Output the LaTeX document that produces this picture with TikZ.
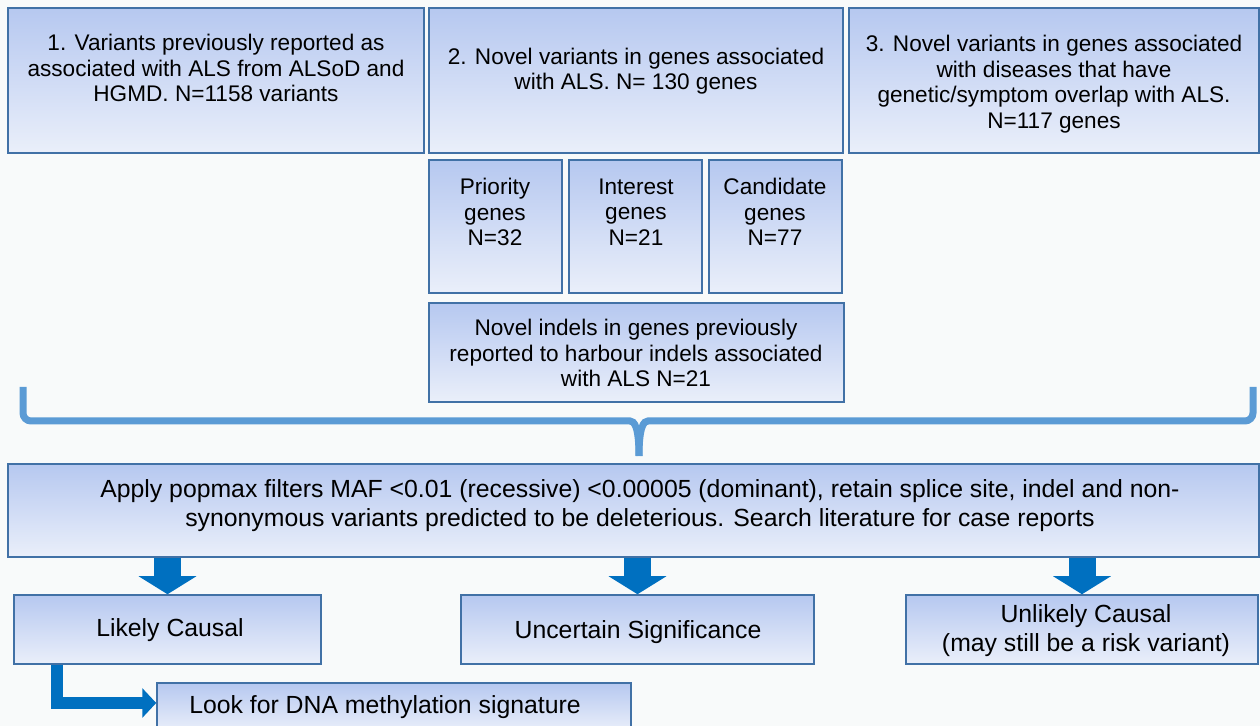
\documentclass[tikz,border=0pt]{standalone}
\usepackage{fontspec}
\setmainfont{Liberation Sans}
\usetikzlibrary{fit,arrows.meta}

\definecolor{bgwhite}{RGB}{248,250,250}
\definecolor{boxtop}{RGB}{182,200,240}
\definecolor{boxbot}{RGB}{234,239,250}
\definecolor{boxline}{RGB}{65,113,166}
\definecolor{bracecol}{RGB}{91,155,213}
\definecolor{arrowcol}{RGB}{0,112,192}

\tikzset{
  panel/.style={draw=boxline, line width=0.75pt, top color=boxtop, bottom color=boxbot, inner sep=0pt},
  smalltxt/.style={font=\fontsize{11.3}{12.8}\selectfont, align=center},
  bigtxt/.style={font=\fontsize{12.4}{14.5}\selectfont, align=center},
  downarrow/.style={draw=arrowcol, line width=13.5pt, -{Triangle[width=28.5pt,length=9pt]}},
  elbowarrow/.style={draw=arrowcol, line width=6pt, line join=miter, -{Triangle[width=14.5pt,length=7pt]}},
  bracket/.style={draw=bracecol, line width=3.5pt}
}

\begin{document}
\begin{tikzpicture}[x=0.5pt,y=-0.5pt]
\fill[bgwhite] (0,0) rectangle (1260,726);
\useasboundingbox (0,0) rectangle (1260,726);

% Sources
\node[panel, fit={(8,8) (424,153)}] (src1) {};
\node[smalltxt] (src1t) at (216,68) {1. Variants previously reported as\\associated with ALS from ALSoD and\\HGMD. N=1158 variants};

\node[panel, fit={(429,8) (843,153)}] (src2) {};
\node[smalltxt] (src2t) at (636,71) {2. Novel variants in genes associated\\with ALS. N= 130 genes};

\node[panel, fit={(849,8) (1259,153)}] (src3) {};
\node[smalltxt] (src3t) at (1054,84) {3. Novel variants in genes associated\\with diseases that have\\genetic/symptom overlap with ALS.\\N=117 genes};

% Gene groups
\node[panel, fit={(429,160) (562,293)}] (prio) {};
\node[smalltxt] (priot) at (495,212) {Priority\\genes\\N=32};
\node[panel, fit={(569,160) (702,293)}] (inter) {};
\node[smalltxt] (intert) at (636,212) {Interest\\genes\\N=21};
\node[panel, fit={(709,160) (842,293)}] (cand) {};
\node[smalltxt] (candt) at (775,212) {Candidate\\genes\\N=77};

\node[panel, fit={(429,303) (844,402)}] (indel) {};
\node[smalltxt] (indelt) at (636,353) {Novel indels in genes previously\\reported to harbour indels associated\\with ALS N=21};

% Brace
\draw[bracket, rounded corners=4pt] (23,387) |- (622,421) .. controls (634,421) and (639,426) .. (639,456);
\draw[bracket, rounded corners=4pt] (1253,387) |- (656,421) .. controls (644,421) and (639,426) .. (639,456);

% Filter
\node[panel, fit={(8,464) (1259,557)}] (filter) {};
\node[bigtxt] (filtert) at (640,506) {Apply popmax filters MAF <0.01 (recessive) <0.00005 (dominant), retain splice site, indel and non-\\synonymous variants predicted to be deleterious. Search literature for case reports};

% Outcomes
\node[panel, fit={(14,595) (321,664)}] (likely) {};
\node[bigtxt] (likelyt) at (170,630) {Likely Causal};
\node[panel, fit={(461,595) (814,664)}] (uncert) {};
\node[bigtxt] (uncertt) at (638,632) {Uncertain Significance};
\node[panel, fit={(906,595) (1258,664)}] (unlik) {};
\node[bigtxt] (unlikt) at (1086,631) {Unlikely Causal\\(may still be a risk variant)};

\node[panel, fit={(157,683) (631,731)}] (dna) {};
\node[bigtxt] (dnat) at (385,707) {Look for DNA methylation signature};

\draw[downarrow] (filter.south -| likely.north) -- (likely.north);
\draw[downarrow] (filter.south -| uncert.north) -- (uncert.north);
\draw[downarrow] (filter.south -| unlik.north) -- (unlik.north);
\draw[elbowarrow] ([xshift=22pt]likely.south west) |- ([yshift=2pt]dna.west);

\end{tikzpicture}
\end{document}
